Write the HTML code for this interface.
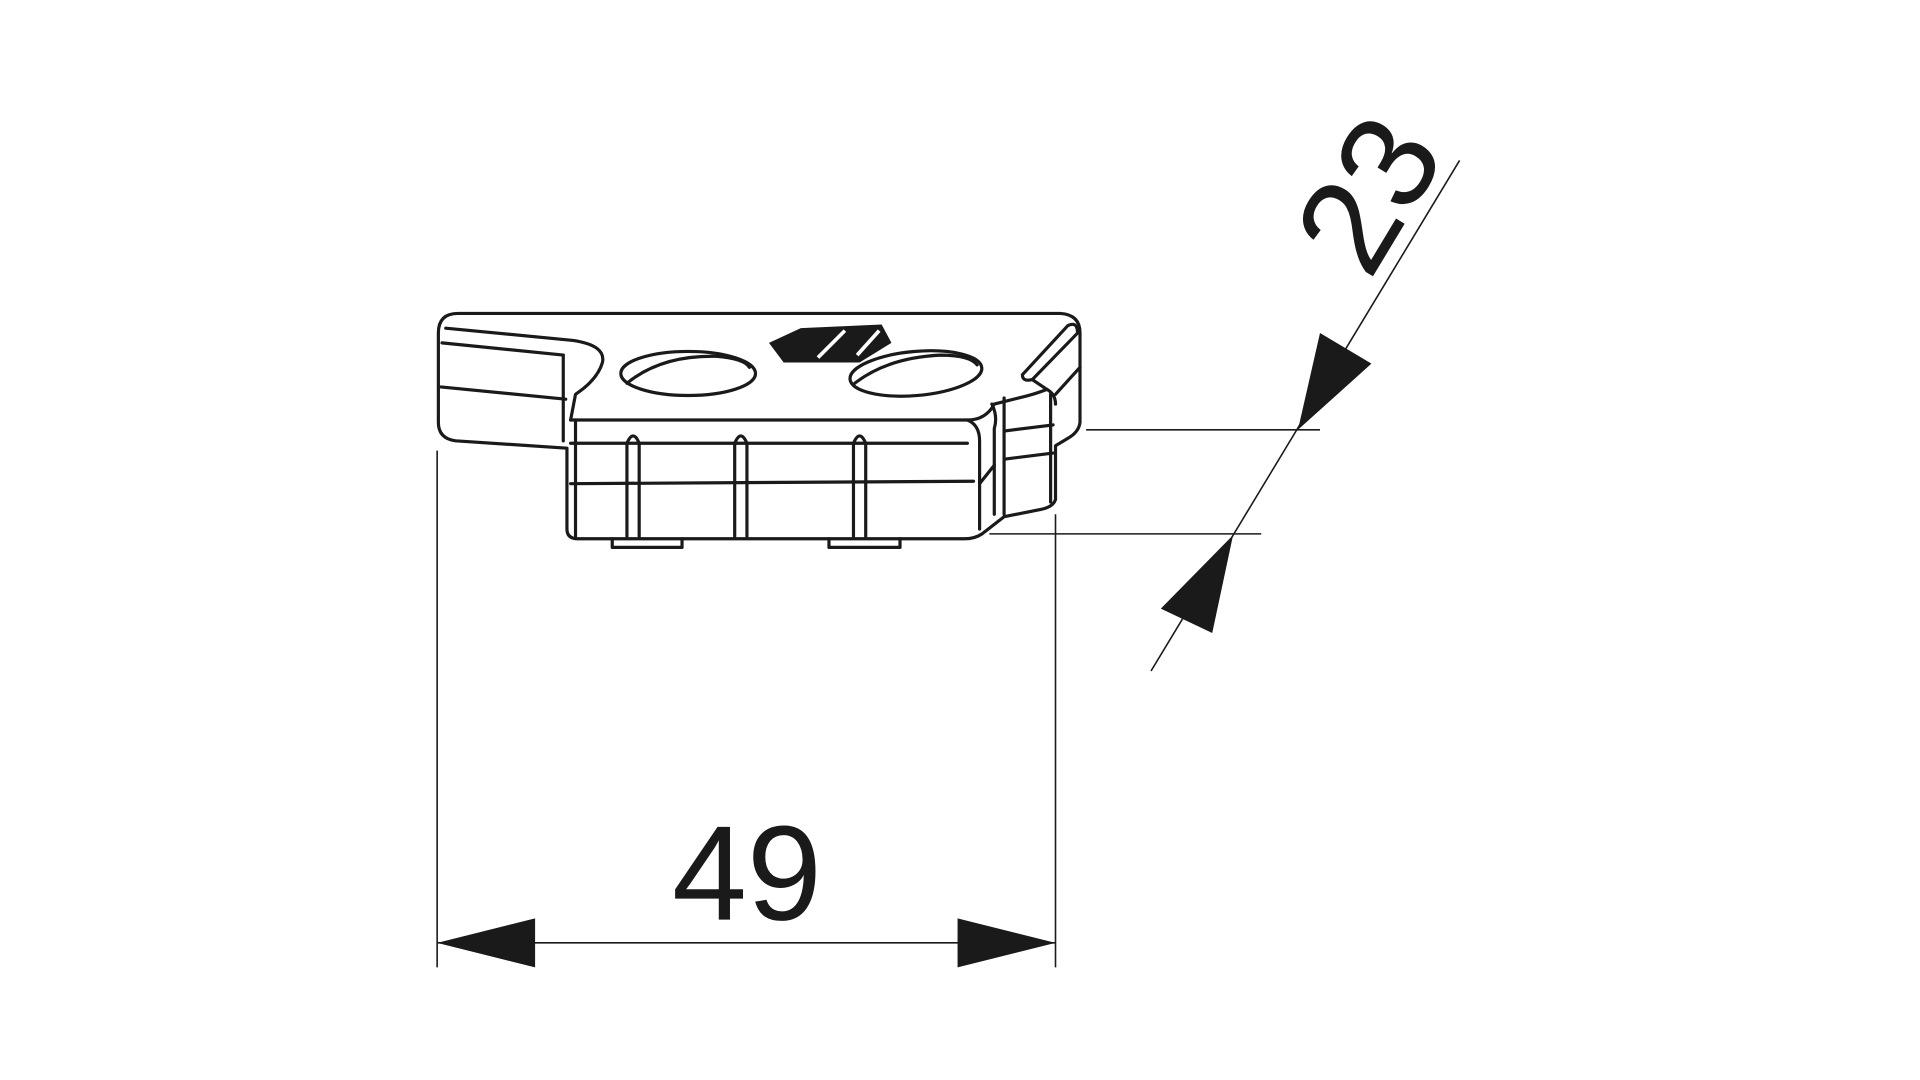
<!DOCTYPE html>
<html><head><meta charset="utf-8"><style>html,body{margin:0;padding:0;background:#fff}svg{display:block}</style></head>
<body>
<svg width="1920" height="1080" viewBox="0 0 1568 882" xmlns="http://www.w3.org/2000/svg">
<rect width="1568" height="882" fill="#fff"/>
<g fill="none" stroke="#1a1a1a" stroke-width="1.3">
<line x1="357" y1="368" x2="357" y2="790"/>
<line x1="862" y1="420" x2="862" y2="790"/>
<line x1="357" y1="770" x2="862" y2="770"/>
<line x1="887" y1="351" x2="1078" y2="351"/>
<line x1="808" y1="436" x2="1030" y2="436"/>
<line x1="1192" y1="131" x2="940" y2="548"/>
</g>
<g fill="#1a1a1a">
<polygon points="357,770 437,750 437,790"/>
<polygon points="862,770 782,750 782,790"/>
<polygon points="1060,351 1078,272 1120,297"/>
<polygon points="1007,437 948,497 990,517"/>
</g>
<text x="0" y="0" transform="translate(610,751)" font-family="Liberation Sans, sans-serif" font-size="110" text-anchor="middle" fill="#1a1a1a">49</text>
<text x="0" y="0" transform="translate(1150,178) rotate(-58.9)" font-family="Liberation Sans, sans-serif" font-size="110" text-anchor="middle" fill="#1a1a1a">23</text>

<g fill="none" stroke="#1a1a1a" stroke-width="2.6" stroke-linejoin="round" stroke-linecap="round">
<path d="M358,272 Q358,256 374,256 L866,256 Q882,257 882,272 L882,345 Q881,353 872,358 L862,364 L862,408 Q860,414 850,416 L820,422 L802,436 Q796,440 788,440 L472,440 Q463,440 463,432 L463,366 L372,360 Q358,358 358,345 Z"/>
<path d="M364,268 L468,278 Q495,282 492,296 Q488,310 470,322 L466,343"/>
<path d="M361,280 L460,290"/>
<path d="M360,316 L462,326"/>
<path d="M460,290 L460,360"/>
<path d="M466,343 L790,343 Q805,343 812,330 L832,325 Q845,322 855,318"/>
<path d="M466,362 L790,362"/>
<path d="M466,395 L795,393"/>
<path d="M470,343 L470,438"/>
<path d="M790,343 Q800,347 800,360 L800,432"/>
<path d="M810,330 Q815,340 812,350 L812,420"/>
<path d="M820,325 L820,420"/>
<path d="M858,322 L858,410"/>
<path d="M820,352 L860,347"/>
<path d="M820,375 L860,370"/>
<path d="M812,380 L800,395"/>
<path d="M882,300 L862,322"/>
<path d="M835,306 L872,266 Q880,262 880,272 L843,310 Q835,312 835,306"/>
<path d="M843,310 L855,318 Q862,322 862,330"/>
<path d="M512,438 L512,362 Q517,350 522,362 L522,438"/>
<path d="M600,438 L600,362 Q605,350 610,362 L610,438"/>
<path d="M697,438 L697,362 Q702,350 707,362 L707,438"/>
<ellipse cx="562" cy="305" rx="55" ry="18"/>
<path d="M512,313 Q540,290 585,291 Q608,293 612,300"/>
<ellipse cx="748" cy="305" rx="54" ry="18" transform="rotate(-5 748 305)"/>
<path d="M698,313 Q725,292 768,290 Q792,290 798,298"/>
<path d="M500,440 L500,447 L557,447 L557,440"/>
<path d="M677,440 L677,447 L735,447 L735,440"/>
</g>
<polygon points="628,280 654,268 720,265 728,280 702,296 640,296" fill="#1a1a1a"/>
<path d="M668,292 L690,270 M700,290 L718,270" stroke="#fff" stroke-width="3"/>
</svg>
</body></html>
